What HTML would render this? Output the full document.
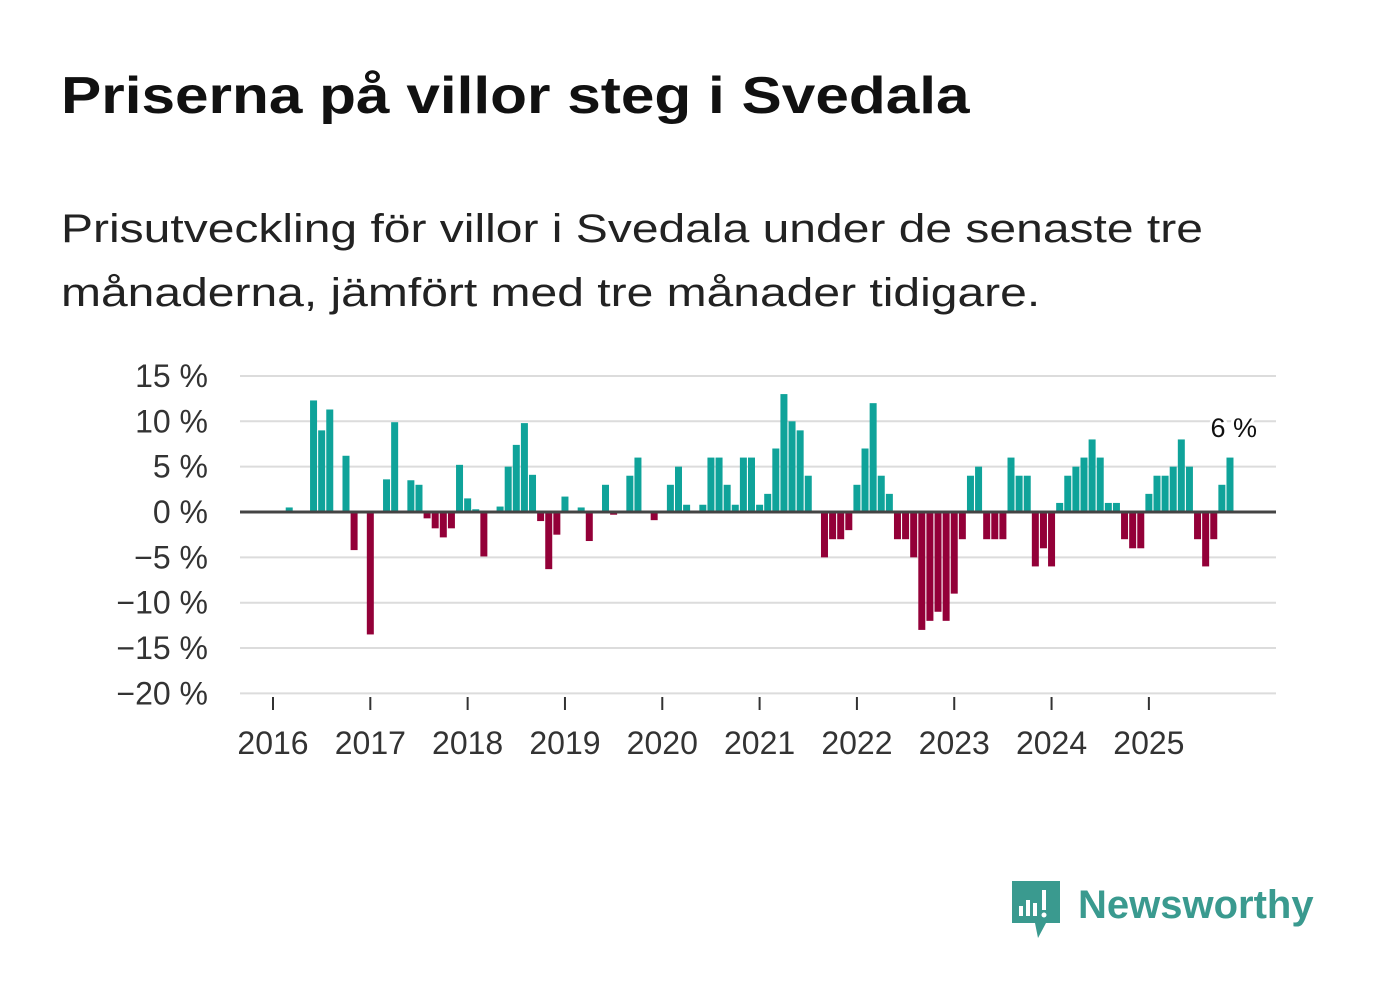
<!DOCTYPE html>
<html><head><meta charset="utf-8"><style>
body{margin:0;background:#fff;width:1382px;height:999px;overflow:hidden;font-family:"Liberation Sans",sans-serif;}
#title{position:absolute;left:61px;top:66px;font-size:52px;font-weight:bold;color:#111;margin:0;transform:scaleX(1.16);transform-origin:0 0;white-space:nowrap}
#sub{position:absolute;left:61px;top:197px;font-size:40px;line-height:64px;color:#222;margin:0;transform:scaleX(1.2);transform-origin:0 0;white-space:nowrap}
svg{position:absolute;left:0;top:0}
</style></head><body>
<h1 id="title">Priserna på villor steg i Svedala</h1>
<p id="sub">Prisutveckling för villor i Svedala under de senaste tre<br>månaderna, jämfört med tre månader tidigare.</p>
<svg id="chart" width="1382" height="999"></svg>
<script>
const startYear = 2016;
const yearLabels = ["2016","2017","2018","2019","2020","2021","2022","2023","2024","2025"];
const yTicks = [15,10,5,0,-5,-10,-15,-20];
const values = [
null,null,0.5,null,null,12.3,9,11.3,null,6.2,-4.2,null,
-13.5,null,3.6,9.9,null,3.5,3,-0.7,-1.8,-2.8,-1.8,5.2,
1.5,0.3,-4.9,null,0.6,5,7.4,9.8,4.1,-1,-6.3,-2.5,
1.7,null,0.5,-3.2,null,3,-0.3,null,4,6,null,-0.9,
null,3,5,0.8,null,0.8,6,6,3,0.8,6,6,
0.8,2,7,13,10,9,4,null,-5,-3,-3,-2,
3,7,12,4,2,-3,-3,-5,-13,-12,-11,-12,
-9,-3,4,5,-3,-3,-3,6,4,4,-6,-4,
-6,1,4,5,6,8,6,1,1,-3,-4,-4,
2,4,4,5,8,5,-3,-6,-3,3,6
];
const lastLabel = "6 %";
const NS="http://www.w3.org/2000/svg";
const svg=document.getElementById('chart');
const x0=273, step=8.11, left=240, right=1276;
const xs=i=>x0+i*step;
const ys=v=>512-v*9.07;
function el(t,a){const e=document.createElementNS(NS,t);for(const k in a)e.setAttribute(k,a[k]);svg.appendChild(e);return e;}
yTicks.forEach(t=>{
  const g=el('line',{x1:left,x2:right,y1:ys(t),y2:ys(t),stroke:'#dcdcdc','stroke-width':2});
  
  
  const tx=el('text',{x:208,y:ys(t)+11,'text-anchor':'end','font-size':32,fill:'#333'});
  tx.textContent=(t<0?'\u2212'+(-t):t)+' %';
  
  
});
values.forEach((v,i)=>{
  if(v===null)return;
  const r=el('rect',{x:xs(i)-3.5,width:7,y:Math.min(ys(v),ys(0)),height:Math.abs(ys(v)-ys(0)),fill:v>=0?'#0fa39a':'#930038'});
  
  
});
const zl=el('line',{x1:left,x2:right,y1:ys(0),y2:ys(0),stroke:'#444','stroke-width':3});


yearLabels.forEach((y,k)=>{
  const x=xs(k*12);
  const tk=el('line',{x1:x,x2:x,y1:697,y2:710,stroke:'#333','stroke-width':2});
  
  
  const t=el('text',{x:x,y:754,'text-anchor':'middle','font-size':32,fill:'#333'});
  t.textContent=y;
  
  
});
let li=values.length-1;
const lab=el('text',{x:xs(li)+27,y:437,'text-anchor':'end','font-size':27,fill:'#111',stroke:'#fff','stroke-width':6,'paint-order':'stroke'});
lab.textContent=lastLabel;


</script>
<svg width="1382" height="999" style="pointer-events:none">
<path d="M1012 881h48v42h-14l-8 15-3-15h-23z" fill="#3a9a8f"/>
<rect x="1019" y="906" width="4" height="10" fill="#fff"/>
<rect x="1026" y="900" width="4" height="16" fill="#fff"/>
<rect x="1033" y="903" width="4" height="13" fill="#fff"/>
<rect x="1042" y="890" width="4" height="20" fill="#fff"/>
<circle cx="1044" cy="915" r="2.5" fill="#fff"/>
<text x="1078" y="918" font-size="40" font-weight="bold" fill="#3a9a8f" font-family="Liberation Sans, sans-serif">Newsworthy</text>
</svg>
</body></html>
